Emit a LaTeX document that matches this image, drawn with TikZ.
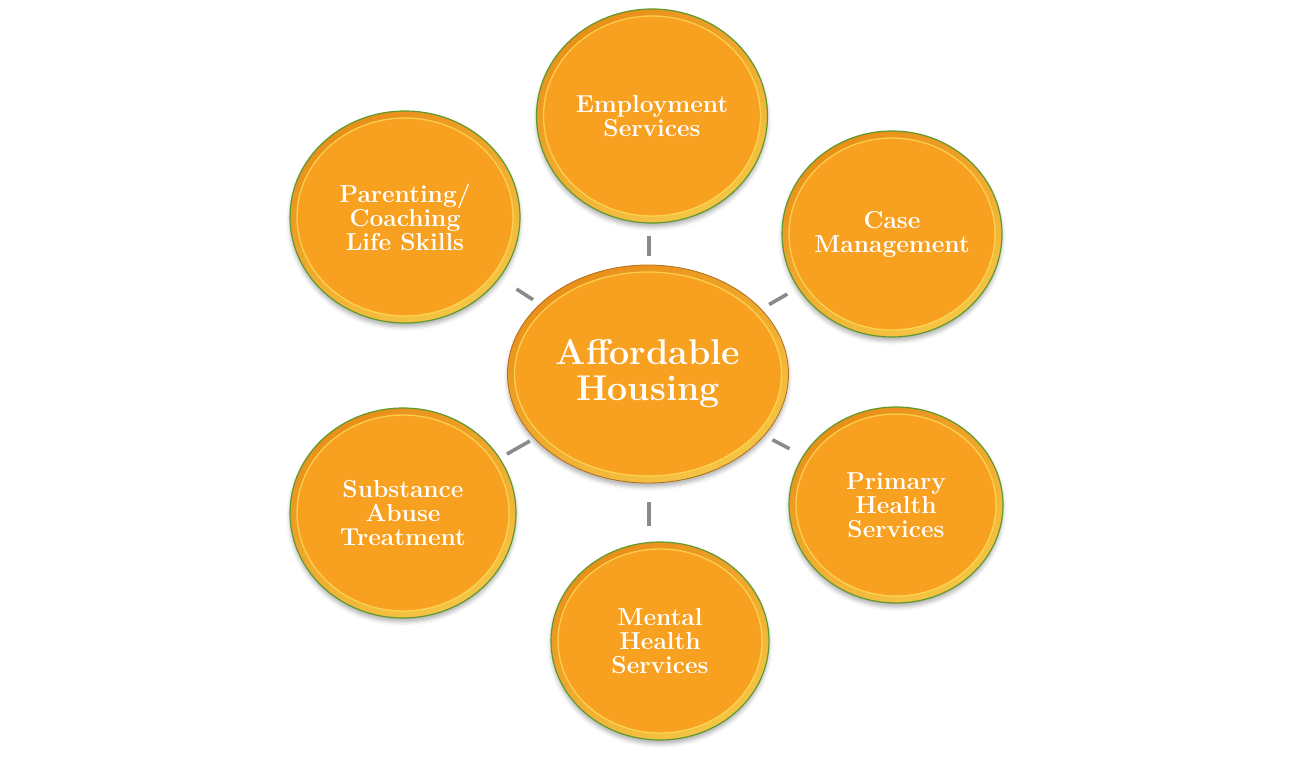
\documentclass[tikz,border=0pt]{standalone}
\usetikzlibrary{shapes.geometric,shadows.blur,calc}
\definecolor{inorange}{HTML}{F8A01F}
\definecolor{rimdark}{HTML}{E98F1A}
\definecolor{rimlight}{HTML}{F5C545}
\definecolor{rimgreen}{HTML}{5E9A2C}
\definecolor{hilite}{HTML}{FFE45C}
\definecolor{linegray}{HTML}{8A8A8A}
\definecolor{cedge}{HTML}{B06E1C}
\begin{document}
\begin{tikzpicture}[x=1pt,y=1pt,
  bubble/.style={ellipse, inner sep=0pt, align=center, text=white,
    font=\bfseries\fontsize{24.5}{24}\selectfont,
    draw=rimgreen, line width=1.2pt,
    top color=rimdark, bottom color=rimlight, shading angle=30,
    blur shadow={shadow xshift=0pt, shadow yshift=-4pt, shadow blur radius=4pt, shadow opacity=30},
    path picture={
      \path let \p1=(path picture bounding box.center),
                \p2=(path picture bounding box.north east) in
        [fill=inorange, draw=hilite, draw opacity=0.7, line width=1.3pt]
        (\p1) ellipse [x radius={\x2-\x1-7}, y radius={\y2-\y1-7}];
    }},
  hub/.style={bubble, draw=cedge, line width=0.8pt,
    font=\bfseries\fontsize{35.8}{36}\selectfont},
  spoke/.style={draw=linegray, line width=3.6pt}
]
\useasboundingbox (0,0) rectangle (1305,756);

\node[hub, minimum width=281, minimum height=218] (hub) at (648,382) {Affordable\\Housing};

\node[bubble, minimum width=231, minimum height=214] (emp) at (652,640) {Employment\\Services};
\node[bubble, minimum width=220, minimum height=206] (case) at (892,522) {Case\\Management};
\node[bubble, minimum width=230, minimum height=212] (par) at (405,539) {Parenting/\\Coaching\\Life Skills};
\node[bubble, minimum width=226, minimum height=210] (sub) at (403,243) {Substance\\Abuse\\Treatment};
\node[bubble, minimum width=218, minimum height=198] (men) at (660,115) {Mental\\Health\\Services};
\node[bubble, minimum width=214, minimum height=196] (pri) at (896,251) {Primary\\Health\\Services};

\draw[spoke, shorten <=9pt, shorten >=12pt] ([xshift=1pt]hub.north) -- ([xshift=1pt]hub.north |- emp.south);
\draw[spoke, shorten <=9pt, shorten >=12pt] (hub) -- (case);
\draw[spoke, shorten <=8pt, shorten >=20pt] (hub) -- (par);
\draw[spoke, shorten <=5pt, shorten >=8pt] (hub) -- (sub);
\draw[spoke, shorten <=9pt, shorten >=15pt] (hub) -- (pri);
\draw[spoke, shorten <=19pt, shorten >=15pt] ([xshift=1pt]hub.south) -- ([xshift=1pt]hub.south |- men.north);
\end{tikzpicture}
\end{document}
